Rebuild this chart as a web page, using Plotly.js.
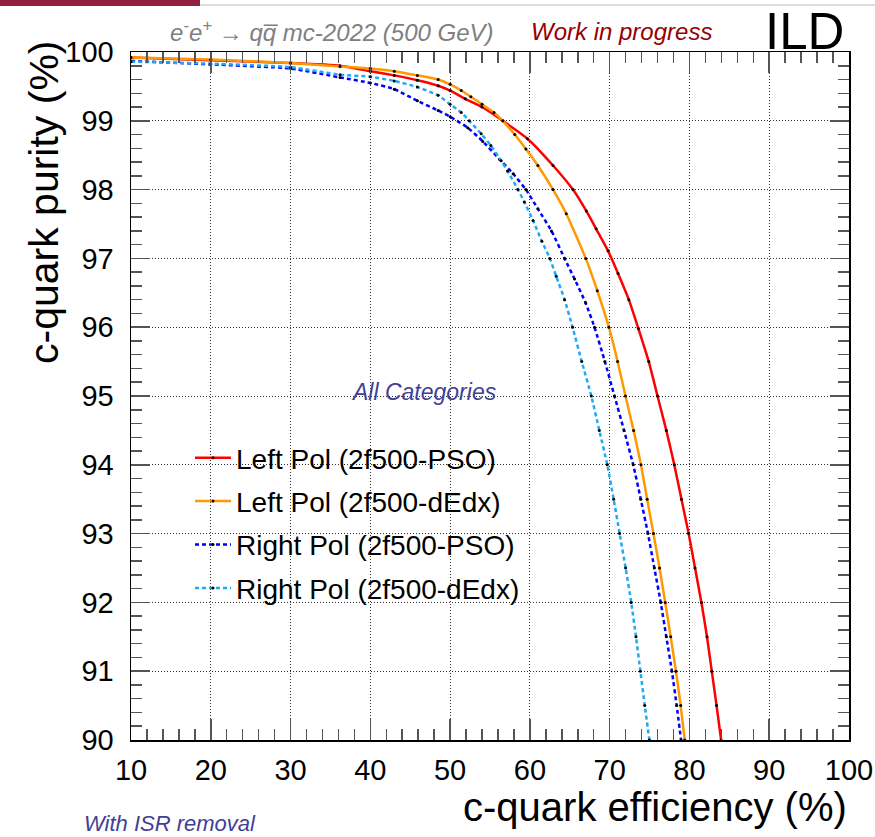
<!DOCTYPE html>
<html>
<head>
<meta charset="utf-8">
<script src="https://cdn.plot.ly/plotly-3.0.1.min.js"></script>
<style>html,body{margin:0;padding:0;background:#fff;}#chart{width:875px;height:837px;}</style>
</head>
<body>
<div id="chart"></div>
<script>
// ---- data ----
const seriesNames = ["Left Pol (2f500-PSO)", "Left Pol (2f500-dEdx)", "Right Pol (2f500-PSO)", "Right Pol (2f500-dEdx)"];

const leftPsoEff = [10, 20, 30, 36.2, 40, 43.0, 45.9, 48.5, 50.0, 51.9, 54.0, 56.6, 59.7, 62.9, 65.4, 67.07, 68.3, 69.8, 71.05, 72.4, 73.6, 74.9, 76.0, 77.1, 78.1, 79.0, 79.9, 80.7, 81.5, 82.2, 82.8, 83.4, 83.97];
const leftPsoPur = [99.92, 99.88, 99.84, 99.80, 99.72, 99.66, 99.59, 99.51, 99.44, 99.32, 99.20, 99.0, 98.74, 98.35, 98.0, 97.69, 97.43, 97.11, 96.78, 96.40, 95.98, 95.5, 95.0, 94.5, 94.0, 93.5, 93.0, 92.5, 92.0, 91.5, 91.0, 90.5, 90.0];

const leftDedxEff = [10, 20, 30, 36.2, 40, 43.0, 45.9, 48.5, 50.0, 51.4, 52.6, 54.0, 55.5, 56.6, 58.1, 59.5, 61.0, 62.9, 64.56, 67.0, 68.45, 69.9, 71.0, 71.98, 73.0, 73.92, 74.7, 75.49, 76.25, 76.96, 77.65, 78.31, 78.9, 79.41];
const leftDedxPur = [99.92, 99.89, 99.84, 99.79, 99.76, 99.72, 99.66, 99.60, 99.53, 99.44, 99.35, 99.24, 99.12, 99.0, 98.80, 98.59, 98.35, 98.0, 97.65, 97.0, 96.53, 96.0, 95.5, 95.0, 94.5, 94.0, 93.5, 93.0, 92.5, 92.0, 91.5, 91.0, 90.5, 90.0];

const rightPsoEff = [10, 20, 30, 36.2, 40, 43.0, 45.9, 48.5, 50.0, 52.2, 54.1, 56.2, 57.9, 59.5, 61.0, 62.7, 64.35, 65.6, 67.0, 68.1, 69.4, 70.6, 71.8, 72.95, 73.9, 74.8, 75.6, 76.4, 77.1, 77.8, 78.4, 78.95];
const rightPsoPur = [99.87, 99.82, 99.76, 99.63, 99.55, 99.46, 99.29, 99.15, 99.06, 98.90, 98.70, 98.44, 98.23, 98.0, 97.72, 97.40, 97.0, 96.70, 96.35, 96.0, 95.5, 95.0, 94.5, 94.0, 93.5, 93.0, 92.5, 92.0, 91.5, 91.0, 90.5, 90.0];

const rightDedxEff = [10, 20, 30, 36.2, 40, 43.0, 45.9, 48.5, 50.0, 51.4, 52.4, 53.9, 55.1, 56.4, 57.2, 58.5, 59.3, 60.4, 61.5, 62.5, 63.3, 64.35, 65.35, 66.5, 67.7, 68.7, 69.7, 70.5, 71.25, 72.0, 72.7, 73.3, 73.85, 74.4, 74.98];
const rightDedxPur = [99.86, 99.83, 99.78, 99.67, 99.64, 99.58, 99.49, 99.37, 99.24, 99.12, 99.0, 98.81, 98.64, 98.42, 98.27, 98.0, 97.82, 97.55, 97.25, 97.0, 96.74, 96.40, 96.0, 95.5, 95.0, 94.5, 94.0, 93.5, 93.0, 92.5, 92.0, 91.5, 91.0, 90.5, 90.0];

const xTickVals = [10, 20, 30, 40, 50, 60, 70, 80, 90, 100];
const yTickVals = [90, 91, 92, 93, 94, 95, 96, 97, 98, 99, 100];

// ---- chart ----
const FONT = "Liberation Sans, Arial, Helvetica, sans-serif";
const mk = {size: 3, color: "#000"};
function tr(x, y, name, color, dash, grp) {
  return {x: x, y: y, name: name, type: "scatter", mode: "lines+markers",
    line: {color: color, width: 2.5, dash: dash, shape: "spline", smoothing: 0.5}, marker: mk, legendgroup: grp};
}
const data = [
  tr(leftPsoEff, leftPsoPur, seriesNames[0], "#ff0000", "solid", "a"),
  tr(leftDedxEff, leftDedxPur, seriesNames[1], "#ff9900", "solid", "b"),
  tr(rightPsoEff, rightPsoPur, seriesNames[2], "#0000ff", "4px,3px", "c"),
  tr(rightDedxEff, rightDedxPur, seriesNames[3], "#1eaaf5", "4px,3px", "d")
];

const W = 718, H = 688, L = 131, T = 52;
const px = v => (v - L) / W;
const py = v => (T + H - v) / H;

const axisCommon = {
  showline: true, linecolor: "#000", linewidth: 1.5, mirror: "allticks",
  ticks: "inside", tickcolor: "#555", tickwidth: 1.5,
  showgrid: true, gridcolor: "#333", gridwidth: 1, griddash: "1px,2px",
  zeroline: false, tickfont: {family: FONT, size: 29, color: "#000"}
};

const layout = {
  width: 875, height: 837,
  margin: {l: L, r: 875 - L - W, t: T, b: 837 - T - H},
  paper_bgcolor: "#fff", plot_bgcolor: "#fff",
  font: {family: FONT},
  showlegend: true,
  legend: {x: px(190), y: py(433), xanchor: "left", yanchor: "top",
    bgcolor: "rgba(0,0,0,0)", font: {family: FONT, size: 28, color: "#000"},
    tracegroupgap: 4, itemwidth: 36},
  xaxis: Object.assign({}, axisCommon, {
    range: [10, 100], tickvals: xTickVals, ticklen: 21, ticklabelstandoff: 4,
    minor: {dtick: 2, ticks: "inside", ticklen: 11, tickcolor: "#555", tickwidth: 1.5, showgrid: false}
  }),
  yaxis: Object.assign({}, axisCommon, {
    range: [90, 100], tickvals: yTickVals, ticklen: 19, ticklabelstandoff: 10,
    minor: {dtick: 0.2, ticks: "inside", ticklen: 11, tickcolor: "#555", tickwidth: 1.5, showgrid: false}
  }),
  shapes: [
    {type: "rect", xref: "paper", yref: "paper", x0: px(0), x1: px(200), y0: py(6), y1: py(0),
      fillcolor: "#941e3e", line: {width: 0}},
    {type: "line", xref: "paper", yref: "paper", x0: px(200), x1: px(875), y0: py(5), y1: py(5),
      line: {color: "#bbbbbb", width: 1}}
  ],
  annotations: [
    {text: "e<sup>-</sup>e<sup>+</sup> → qq̅ mc-2022 (500 GeV)", xref: "paper", yref: "paper",
      x: px(332), y: py(31), xanchor: "center", yanchor: "middle", showarrow: false,
      font: {family: FONT, size: 24, color: "#808080", style: "italic"}},
    {text: "Work in progress", xref: "paper", yref: "paper",
      x: px(621), y: py(31), xanchor: "center", yanchor: "middle", showarrow: false,
      font: {family: FONT, size: 24, color: "#990000", style: "italic"}},
    {text: "ILD", xref: "paper", yref: "paper",
      x: px(846), y: py(31), xanchor: "right", yanchor: "middle", showarrow: false,
      font: {family: FONT, size: 51, color: "#000"}},
    {text: "All Categories", xref: "paper", yref: "paper",
      x: px(424), y: py(392), xanchor: "center", yanchor: "middle", showarrow: false,
      font: {family: FONT, size: 23, color: "#3f3f96", style: "italic"}},
    {text: "With ISR removal", xref: "paper", yref: "paper",
      x: px(170), y: py(823), xanchor: "center", yanchor: "middle", showarrow: false,
      font: {family: FONT, size: 22, color: "#3f3f96", style: "italic"}},
    {text: "c-quark efficiency (%)", xref: "paper", yref: "paper",
      x: px(849), y: py(807), xanchor: "right", yanchor: "middle", showarrow: false,
      font: {family: FONT, size: 40, color: "#000"}},
    {text: "c-quark purity (%)", xref: "paper", yref: "paper", textangle: -90,
      x: px(44), y: py(38), xanchor: "center", yanchor: "top", showarrow: false,
      font: {family: FONT, size: 41, color: "#000"}}
  ]
};

Plotly.newPlot("chart", data, layout, {displayModeBar: false, staticPlot: true});
</script>
</body>
</html>
